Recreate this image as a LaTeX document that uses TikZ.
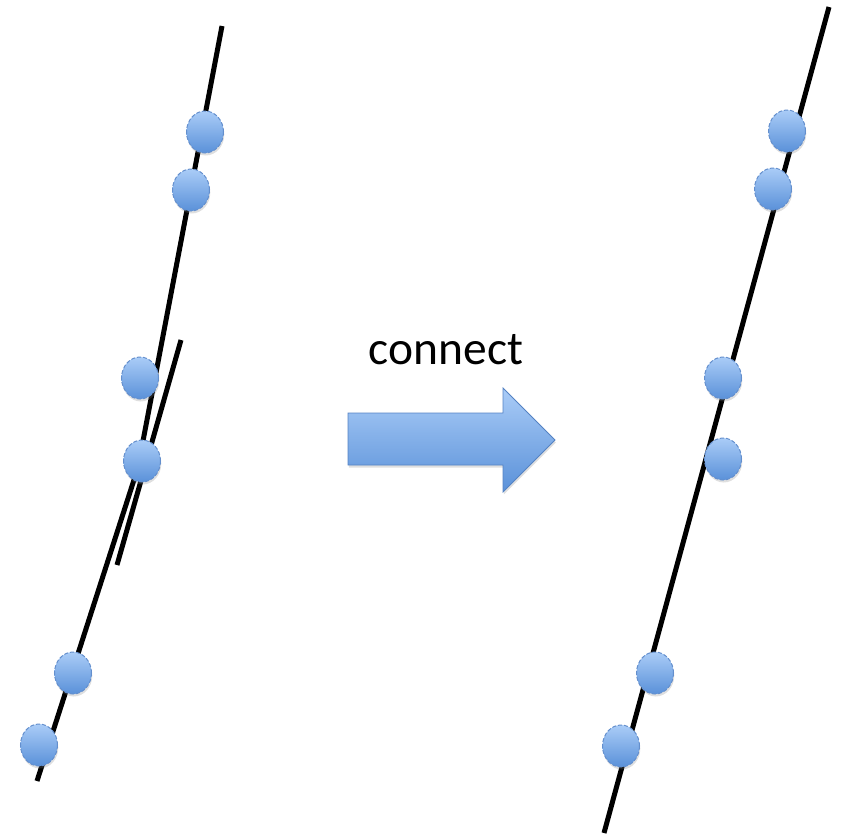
\documentclass[tikz,border=0pt]{standalone}
\usepackage{fontspec}
\setmainfont{Carlito}
\usetikzlibrary{shapes.geometric,shadows}
\definecolor{dotTop}{RGB}{170,204,247}
\definecolor{dotBot}{RGB}{90,145,217}
\definecolor{dotRim}{RGB}{100,143,205}
\definecolor{arrowRim}{RGB}{84,130,195}
\tikzset{
  wire/.style={line width=5pt, black},
  dot/.style={ellipse, minimum width=37pt, minimum height=42pt, inner sep=0pt,
    top color=dotTop, bottom color=dotBot, draw=dotRim, line width=1pt,
    dash pattern=on 4pt off 2pt,
    drop shadow={opacity=0.25, shadow xshift=0.8pt, shadow yshift=-2.5pt}},
  blockarrow/.style={top color=dotTop, bottom color=dotBot, draw=arrowRim, line width=0.8pt,
    drop shadow={opacity=0.25, shadow xshift=0.8pt, shadow yshift=-2.5pt}},
}
\begin{document}
\begin{tikzpicture}[x=1pt,y=-1pt]
\useasboundingbox (0,0) rectangle (841,836);

% left: two fitted pieces that overlap
\coordinate (la1) at (222,26);
\coordinate (la2) at (139,462);
\coordinate (lb1) at (142,455);
\coordinate (lb2) at (37,781);
\coordinate (lc1) at (181,340);
\coordinate (lc2) at (117,565);
\draw[wire] (la1) -- (la2);
\draw[wire] (lb1) -- (lb2);
\draw[wire] (lc1) -- (lc2);

% right: a single connected line
\coordinate (r1) at (829,7);
\coordinate (r2) at (604,833);
\draw[wire] (r1) -- (r2);

% points on the left
\node[dot] (p1) at (205,132) {};
\node[dot] (p2) at (191,190) {};
\node[dot] (p3) at (140,378) {};
\node[dot] (p4) at (142,461) {};
\node[dot] (p5) at (73,673) {};
\node[dot] (p6) at (39,745) {};

% points on the right
\node[dot] (q1) at (787,131) {};
\node[dot] (q2) at (773,189) {};
\node[dot] (q3) at (723,378) {};
\node[dot] (q4) at (723,459) {};
\node[dot] (q5) at (655,673) {};
\node[dot] (q6) at (621,746) {};

% block arrow with caption
\path[blockarrow] (348,413) -- (503,413) -- (503,388) -- (555,440) -- (503,492)
  -- (503,465) -- (348,465) -- cycle;
\node[font=\fontsize{47.5}{52}\selectfont, inner sep=0pt] (cap) at (446,350) {connect};
\end{tikzpicture}
\end{document}
